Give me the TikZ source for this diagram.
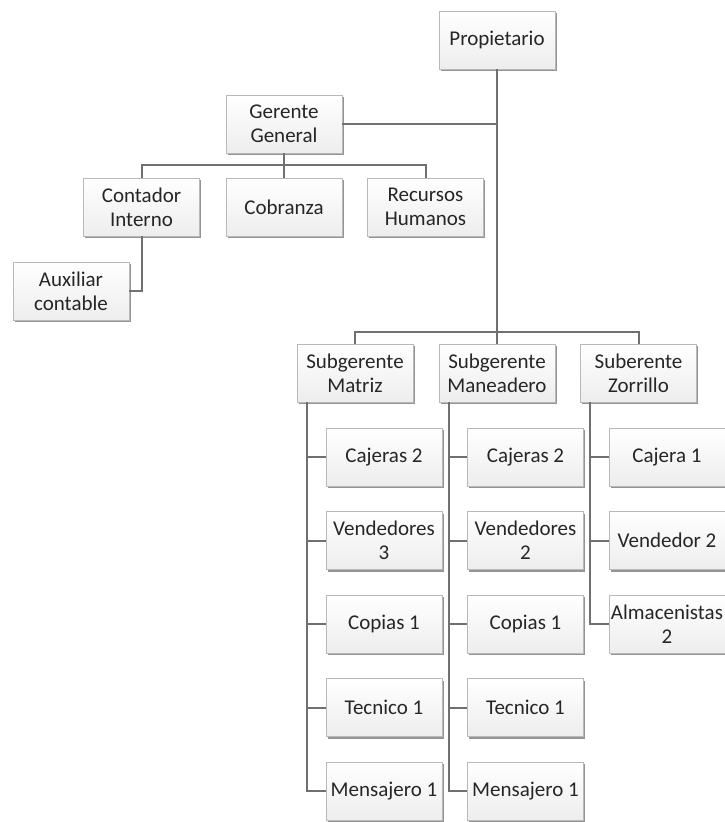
\documentclass[tikz,border=0pt]{standalone}
\usepackage{fontspec}
\setmainfont{Carlito}
\usetikzlibrary{shadows}
\definecolor{linea}{HTML}{707070}
\definecolor{texto}{HTML}{262626}
\tikzset{puesto/.style={draw=gray!55,line width=0.6pt,top color=white,bottom color=gray!14,minimum width=116,minimum height=58,inner sep=2pt,align=center,text=texto,font=\fontsize{21}{24}\selectfont,drop shadow={shadow xshift=1.8pt,shadow yshift=-2.4pt,opacity=0.6,fill=black!70}},
rama/.style={draw=linea,line width=2pt}}
\begin{document}
\begin{tikzpicture}[x=1pt,y=-1pt]
\useasboundingbox (0,0) rectangle (725,822);
\pgfmathsetmacro{\kystep}{83.5}
\pgfmathsetmacro{\kytop}{457}
\pgfmathsetmacro{\kbus}{10}
\node[puesto](prop) at (497,40){Propietario};
\node[puesto](gg) at (284,124){Gerente\\General};
\node[puesto](cont) at (141.5,207){Contador\\Interno};
\node[puesto](cobr) at (284,207){Cobranza};
\node[puesto](rrhh) at (425.5,207){Recursos\\Humanos};
\node[puesto](aux) at (71,291){Auxiliar\\contable};
\node[puesto](subm) at (355,373){Subgerente\\Matriz};
\node[puesto](subn) at (497,373){Subgerente\\Maneadero};
\node[puesto](subz) at (638.5,373){Suberente\\Zorrillo};
\coordinate(gbus) at (284,165);
\coordinate(pbus) at (497,332);
\draw[rama](prop)--(pbus);
\draw[rama](gg.east)--(gg.east-|prop.south);
\draw[rama](gg)--(gbus);
\foreach \n in {cont,cobr,rrhh}{\draw[rama](gbus)-|(\n.north);}
\draw[rama](cont.south)|-(aux.east);
\foreach \n in {subm,subn,subz}{\draw[rama](pbus)-|(\n.north);}
\foreach \k/\lb in {0/{Cajeras 2},1/{Vendedores\\3},2/{Copias 1},3/{Tecnico 1},4/{Mensajero 1}}{\node[puesto](m\k) at (384,\kytop+\k*\kystep){\lb};\draw[rama]([xshift=\kbus]subm.south west)|-(m\k.west);}
\foreach \k/\lb in {0/{Cajeras 2},1/{Vendedores\\2},2/{Copias 1},3/{Tecnico 1},4/{Mensajero 1}}{\node[puesto](n\k) at (525.5,\kytop+\k*\kystep){\lb};\draw[rama]([xshift=\kbus]subn.south west)|-(n\k.west);}
\foreach \k/\lb in {0/{Cajera 1},1/{Vendedor 2},2/{Almacenistas\\2}}{\node[puesto](z\k) at (667,\kytop+\k*\kystep){\lb};\draw[rama]([xshift=\kbus]subz.south west)|-(z\k.west);}
\end{tikzpicture}
\end{document}
